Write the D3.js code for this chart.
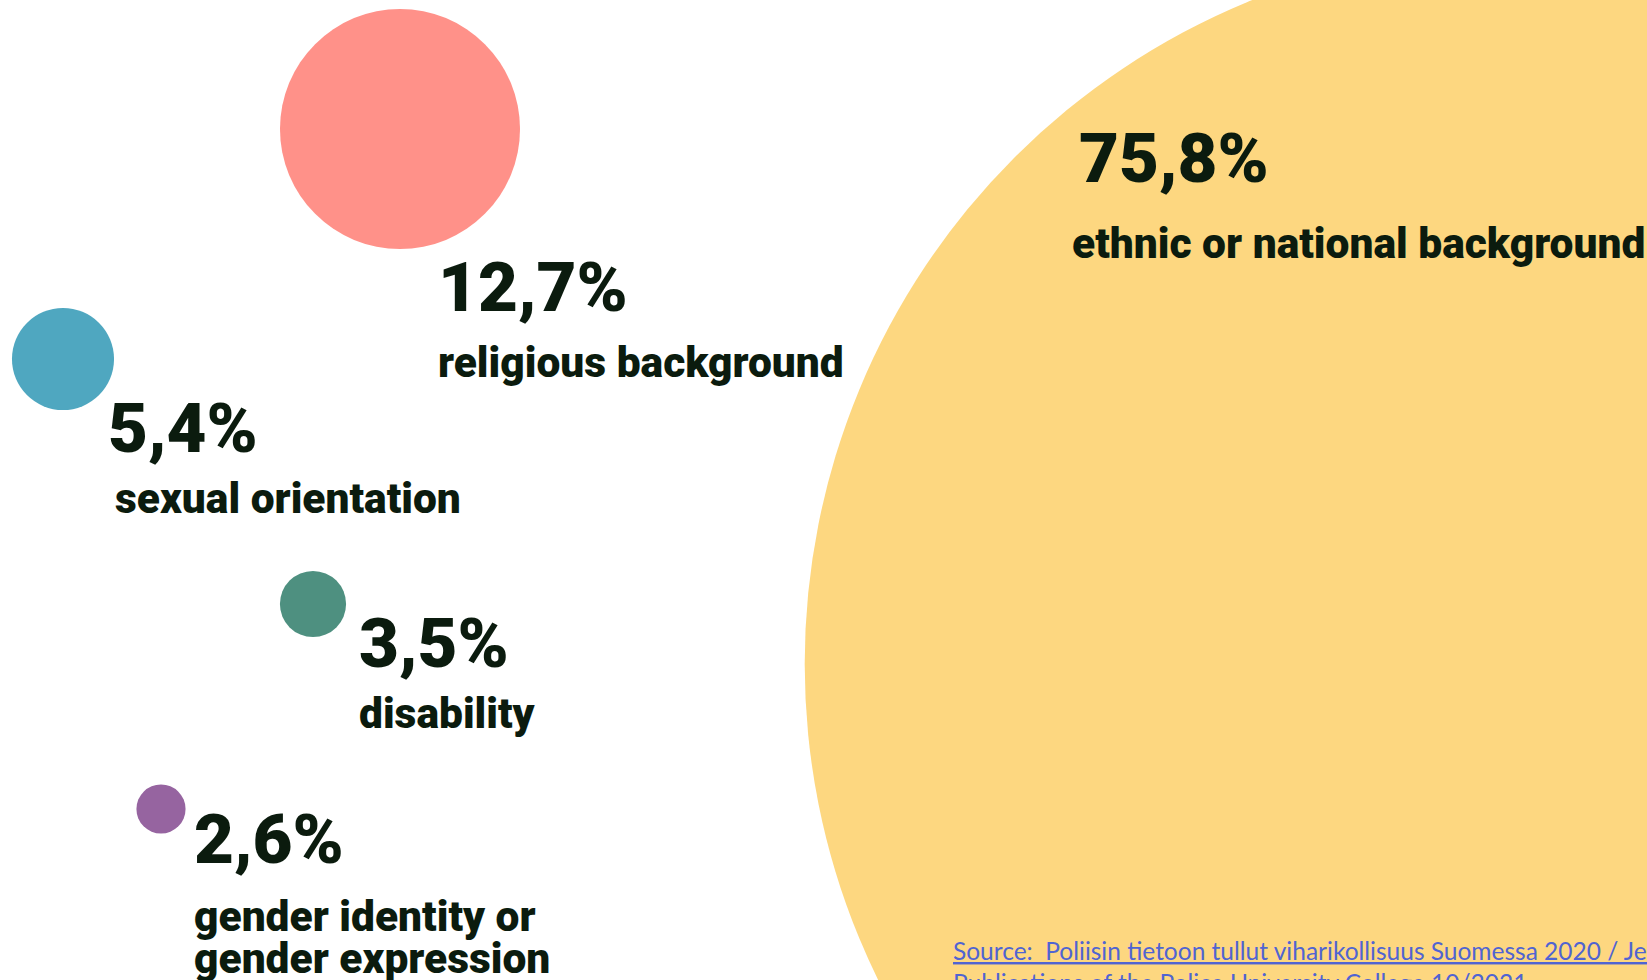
<!DOCTYPE html>
<html>
<head>
<meta charset="utf-8">
<script src="https://cdn.jsdelivr.net/npm/d3@7"></script>
<style>
  body { margin: 0; background: #fff; }
  svg { display: block; }
  .pct { font-family: Roboto, sans-serif; font-weight: 900; fill: #0b1b0e; }
  .lab { font-family: Roboto, sans-serif; font-weight: 900; fill: #0b1b0e; }
  .src { font-family: Lato, "Open Sans", sans-serif; fill: #5064d2; text-decoration: underline; white-space: pre; }
</style>
</head>
<body>
<div id="chart-container"></div>
<script>
// hate crime motives, share of reported cases (%)
const svgWidth = 1647;
const svgHeight = 980;

const categories = ["ethnic or national background", "religious background", "sexual orientation", "disability", "gender identity or gender expression"];
const values = [75.8, 12.7, 5.4, 3.5, 2.6];
const labelLines = [["ethnic or national background"], ["religious background"], ["sexual orientation"], ["disability"], ["gender identity or", "gender expression"]];
const colors = ["#fdd780", "#ff9189", "#4fa7c0", "#4e9080", "#9664a0"];

// where each bubble and its text sit on the page
const spots = [
    { cx: 1521, cy: 664, tx: 1079, ty: 182, lx: 1072, ly: 258 },
    { cx: 400, cy: 129, tx: 438, ty: 311, lx: 438, ly: 377 },
    { cx: 63, cy: 359, tx: 108, ty: 452, lx: 115, ly: 513 },
    { cx: 313, cy: 604, tx: 359, ty: 667, lx: 359, ly: 728 },
    { cx: 161, cy: 809, tx: 194, ty: 863, lx: 194, ly: 931 }
];

const sourceLines = ["Source:  Poliisin tietoon tullut viharikollisuus Suomessa 2020 / Jenita Rauta",
                     "Publications of the Police University College 10/2021"];

const svg = d3.select("#chart-container")
    .append("svg")
    .attr("width", svgWidth)
    .attr("height", svgHeight);

// radius grows linearly with the share
const r = d3.scaleLinear().domain([0, 100]).range([0, 945]);
const fmt = d3.formatLocale({ decimal: ",", thousands: " ", grouping: [3], currency: ["", "€"] }).format(".1f");

const data = categories.map((c, i) => ({ name: c, value: values[i], lines: labelLines[i], color: colors[i], ...spots[i] }));

svg.selectAll(".bubble")
    .data(data)
    .enter()
    .append("circle")
    .attr("class", "bubble")
    .attr("cx", d => d.cx)
    .attr("cy", d => d.cy)
    .attr("r", d => r(d.value))
    .attr("fill", d => d.color);

const groups = svg.selectAll(".item")
    .data(data)
    .enter()
    .append("g")
    .attr("class", "item");

groups.append("text")
    .attr("class", "pct")
    .attr("x", d => d.tx)
    .attr("y", d => d.ty)
    .attr("font-size", 69)
    .text(d => fmt(d.value) + "%");

groups.append("text")
    .attr("class", "lab")
    .attr("x", d => d.lx)
    .attr("y", d => d.ly)
    .attr("font-size", 42.5)
    .selectAll("tspan")
    .data(d => d.lines.map(l => ({ l, x: d.lx })))
    .enter()
    .append("tspan")
    .attr("x", d => d.x)
    .attr("dy", (d, i) => i === 0 ? 0 : 42)
    .text(d => d.l);

svg.append("text")
    .attr("class", "src")
    .attr("x", 953)
    .attr("y", 960)
    .attr("font-size", 24.5)
    .selectAll("tspan")
    .data(sourceLines)
    .enter()
    .append("tspan")
    .attr("x", 953)
    .attr("dy", (d, i) => i === 0 ? 0 : 32)
    .text(d => d);
</script>
</body>
</html>
